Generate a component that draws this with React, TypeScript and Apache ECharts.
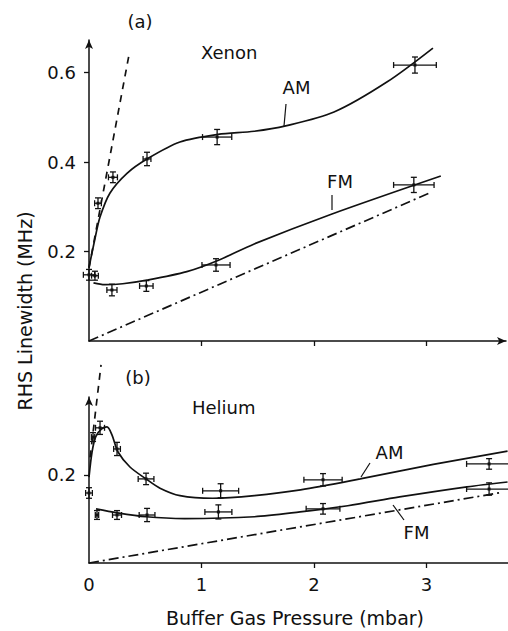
import React, { useEffect, useRef } from "react";
import * as echarts from "echarts";

// ---------- data (pressure in mbar, linewidth in MHz) ----------
// error-bar points: [pressure, linewidth, pressureErr, linewidthErr]
const xenonAMPoints = [
  [0.0, 0.148, 0.05, 0.012],
  [0.08, 0.308, 0.03, 0.012],
  [0.213, 0.366, 0.04, 0.012],
  [0.516, 0.407, 0.035, 0.015],
  [1.14, 0.456, 0.13, 0.017],
  [2.9, 0.617, 0.19, 0.018],
];
const xenonFMPoints = [
  [0.053, 0.146, 0.03, 0.01],
  [0.204, 0.114, 0.045, 0.013],
  [0.51, 0.123, 0.06, 0.012],
  [1.13, 0.17, 0.125, 0.014],
  [2.89, 0.349, 0.18, 0.017],
];
const xenonAMCurve = [
  [0, 0.165], [0.05, 0.225], [0.098, 0.277], [0.187, 0.331], [0.338, 0.375],
  [0.516, 0.407], [0.809, 0.445], [1.147, 0.462], [1.47, 0.469],
  [1.75, 0.481], [2.18, 0.512], [2.65, 0.579], [3.06, 0.655],
];
const xenonFMCurve = [
  [0.04, 0.13], [0.14, 0.126], [0.3, 0.128], [0.516, 0.136], [0.87, 0.155],
  [1.147, 0.18], [1.47, 0.217], [2.15, 0.283], [3.13, 0.369],
];
const xenonDashed = [[0, 0.163], [0.356, 0.64]];
const xenonDashDot = [[0, 0], [3.03, 0.331]];

const heliumAMPoints = [
  [0.0, 0.159, 0.03, 0.012],
  [0.036, 0.286, 0.015, 0.01],
  [0.098, 0.307, 0.04, 0.015],
  [0.249, 0.259, 0.03, 0.015],
  [0.507, 0.191, 0.07, 0.013],
  [1.17, 0.164, 0.16, 0.016],
  [2.08, 0.189, 0.17, 0.014],
  [3.556, 0.225, 0.2, 0.012],
];
const heliumFMPoints = [
  [0.071, 0.109, 0.015, 0.01],
  [0.249, 0.109, 0.04, 0.01],
  [0.516, 0.109, 0.07, 0.015],
  [1.15, 0.116, 0.12, 0.016],
  [2.08, 0.123, 0.15, 0.012],
  [3.556, 0.168, 0.2, 0.014],
];
const heliumAMCurve = [
  [0, 0.195], [0.027, 0.252], [0.06, 0.287], [0.11, 0.304], [0.16, 0.309],
  [0.204, 0.291], [0.258, 0.252], [0.364, 0.218], [0.507, 0.191], [0.631, 0.17],
  [0.809, 0.153], [1.1, 0.147], [1.47, 0.153], [1.88, 0.166], [2.41, 0.191],
  [3.06, 0.224], [3.72, 0.254],
];
const heliumFMCurve = [
  [0.062, 0.123], [0.249, 0.114], [0.507, 0.105], [0.85, 0.101], [1.47, 0.105],
  [1.876, 0.116], [2.3, 0.13], [2.76, 0.15], [3.36, 0.173], [3.72, 0.184],
];
const heliumDashed = [[0.01, 0.24], [0.107, 0.45]];
const heliumDashDot = [[0, 0], [3.66, 0.16]];

const xTickValues = [1, 2, 3];
const xLabelValues = [0, 1, 2, 3];
const yTickValuesA = [0.2, 0.4, 0.6];
const yTickValuesB = [0.2];

const INK = "#111";
const FONT = "DejaVu Sans";

function errorBarSeries(data: number[][], xAxisIndex: number, yAxisIndex: number) {
  return {
    type: "custom",
    xAxisIndex,
    yAxisIndex,
    data,
    renderItem: (_params: any, api: any) => {
      const x = api.value(0);
      const y = api.value(1);
      const ex = api.value(2);
      const ey = api.value(3);
      const l = api.coord([x - ex, y]);
      const r = api.coord([x + ex, y]);
      const t = api.coord([x, y + ey]);
      const b = api.coord([x, y - ey]);
      const c = api.coord([x, y]);
      const cap = 3;
      const style = { stroke: INK, lineWidth: 1.3, fill: null };
      return {
        type: "group",
        children: [
          { type: "line", shape: { x1: l[0], y1: l[1], x2: r[0], y2: r[1] }, style },
          { type: "line", shape: { x1: t[0], y1: t[1], x2: b[0], y2: b[1] }, style },
          { type: "line", shape: { x1: l[0], y1: l[1] - cap, x2: l[0], y2: l[1] + cap }, style },
          { type: "line", shape: { x1: r[0], y1: r[1] - cap, x2: r[0], y2: r[1] + cap }, style },
          { type: "line", shape: { x1: t[0] - cap, y1: t[1], x2: t[0] + cap, y2: t[1] }, style },
          { type: "line", shape: { x1: b[0] - cap, y1: b[1], x2: b[0] + cap, y2: b[1] }, style },
          { type: "rect", shape: { x: c[0] - 1.5, y: c[1] - 1.5, width: 3, height: 3 }, style: { fill: INK } },
        ],
      };
    },
  };
}

function lineSeries(data: number[][], xi: number, yi: number, type: any, smooth: boolean) {
  return {
    type: "line",
    xAxisIndex: xi,
    yAxisIndex: yi,
    data,
    showSymbol: false,
    symbol: "none",
    smooth: smooth ? 0.3 : false,
    clip: false,
    lineStyle: { color: INK, width: 1.7, type },
  };
}

function axisLineStyle(arrow: boolean) {
  return {
    show: true,
    onZero: false,
    symbol: arrow ? ["none", "arrow"] : ["none", "none"],
    symbolSize: [6, 9],
    lineStyle: { color: INK, width: 1.5 },
  };
}

export default function App() {
  const ref = useRef<HTMLDivElement>(null);
  useEffect(() => {
    if (!ref.current) return;
    const chart = echarts.init(ref.current, null, { renderer: "svg" });
    const labelStyle = { color: INK, fontFamily: FONT, fontSize: 18 };
    const txt = () => ({ fill: INK, fontFamily: FONT, fontSize: 18 });
    const option: any = {
      animation: false,
      backgroundColor: "#fff",
      grid: [
        { left: 89, top: 40, width: 417, height: 301, containLabel: false, outerBoundsMode: "none" },
        { left: 89, top: 397, width: 419, height: 166, containLabel: false, outerBoundsMode: "none" },
      ],
      xAxis: [
        {
          type: "value", gridIndex: 0, min: 0, max: 3.71,
          axisLine: axisLineStyle(true),
          axisTick: { show: true, length: 5, customValues: xTickValues, lineStyle: { color: INK, width: 1.3 } },
          axisLabel: { show: false },
          splitLine: { show: false },
        },
        {
          type: "value", gridIndex: 1, min: 0, max: 3.724,
          axisLine: axisLineStyle(false),
          axisTick: { show: true, length: 5, customValues: xTickValues, lineStyle: { color: INK, width: 1.3 } },
          axisLabel: { ...labelStyle, margin: 12, customValues: xLabelValues, formatter: (v: number) => String(Math.round(v)) },
          splitLine: { show: false },
        },
      ],
      yAxis: [
        {
          type: "value", gridIndex: 0, min: 0, max: 0.673,
          axisLine: axisLineStyle(true),
          axisTick: { show: true, length: 5, customValues: yTickValuesA, lineStyle: { color: INK, width: 1.3 } },
          axisLabel: { ...labelStyle, margin: 13, customValues: yTickValuesA, formatter: (v: number) => v.toFixed(1) },
          splitLine: { show: false },
        },
        {
          type: "value", gridIndex: 1, min: 0, max: 0.377,
          axisLine: axisLineStyle(true),
          axisTick: { show: true, length: 5, customValues: yTickValuesB, lineStyle: { color: INK, width: 1.3 } },
          axisLabel: { ...labelStyle, margin: 13, customValues: yTickValuesB, formatter: (v: number) => v.toFixed(1) },
          splitLine: { show: false },
        },
      ],
      series: [
        lineSeries(xenonAMCurve, 0, 0, "solid", true),
        lineSeries(xenonFMCurve, 0, 0, "solid", true),
        lineSeries(xenonDashed, 0, 0, [7, 6], false),
        lineSeries(xenonDashDot, 0, 0, [10, 4, 2, 4], false),
        errorBarSeries(xenonAMPoints, 0, 0),
        errorBarSeries(xenonFMPoints, 0, 0),
        lineSeries(heliumAMCurve, 1, 1, "solid", true),
        lineSeries(heliumFMCurve, 1, 1, "solid", true),
        lineSeries(heliumDashed, 1, 1, [7, 6], false),
        lineSeries(heliumDashDot, 1, 1, [10, 4, 2, 4], false),
        errorBarSeries(heliumAMPoints, 1, 1),
        errorBarSeries(heliumFMPoints, 1, 1),
      ],
      graphic: [
        { type: "text", x: 140, y: 21, style: { text: "(a)", ...txt(), align: "center", verticalAlign: "middle" } },
        { type: "text", x: 201, y: 52, style: { text: "Xenon", ...txt(), align: "left", verticalAlign: "middle" } },
        { type: "text", x: 296.5, y: 87, style: { text: "AM", ...txt(), align: "center", verticalAlign: "middle" } },
        { type: "text", x: 340, y: 181, style: { text: "FM", ...txt(), align: "center", verticalAlign: "middle" } },
        { type: "text", x: 138, y: 377, style: { text: "(b)", ...txt(), align: "center", verticalAlign: "middle" } },
        { type: "text", x: 192, y: 407, style: { text: "Helium", ...txt(), align: "left", verticalAlign: "middle" } },
        { type: "text", x: 389.5, y: 452, style: { text: "AM", ...txt(), align: "center", verticalAlign: "middle" } },
        { type: "text", x: 416.5, y: 532, style: { text: "FM", ...txt(), align: "center", verticalAlign: "middle" } },
        { type: "line", shape: { x1: 286, y1: 104, x2: 284, y2: 126 }, style: { stroke: INK, lineWidth: 1.2 } },
        { type: "line", shape: { x1: 332, y1: 195, x2: 332, y2: 210 }, style: { stroke: INK, lineWidth: 1.2 } },
        { type: "line", shape: { x1: 370, y1: 463, x2: 361, y2: 477 }, style: { stroke: INK, lineWidth: 1.2 } },
        { type: "line", shape: { x1: 393, y1: 505, x2: 404, y2: 520 }, style: { stroke: INK, lineWidth: 1.2 } },
        {
          type: "text", x: 25, y: 311, rotation: Math.PI / 2,
          style: { text: "RHS Linewidth (MHz)", fill: INK, fontFamily: FONT, fontSize: 19, align: "center", verticalAlign: "middle" },
        },
        {
          type: "text", x: 295, y: 618,
          style: { text: "Buffer Gas Pressure (mbar)", fill: INK, fontFamily: FONT, fontSize: 19, align: "center", verticalAlign: "middle" },
        },
      ],
    };
    chart.setOption(option);
    return () => chart.dispose();
  }, []);
  return (
    <div
      ref={ref}
      style={{ position: "fixed", left: 0, top: 0, width: 508, height: 631, background: "#fff" }}
    />
  );
}
